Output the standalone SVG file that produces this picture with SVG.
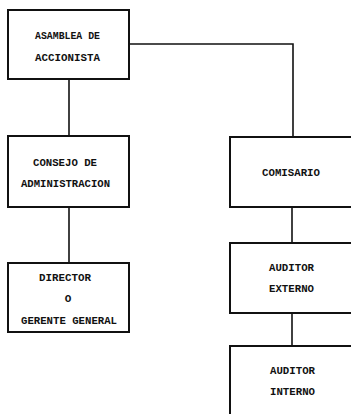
<svg xmlns="http://www.w3.org/2000/svg" width="351" height="414" viewBox="0 0 351 414">
<style>
.box{fill:none;stroke:#111;stroke-width:2}
.con{fill:none;stroke:#111;stroke-width:1.6}
.t{font-family:"Liberation Mono","DejaVu Sans Mono",monospace;font-weight:bold;font-size:11px;fill:#111}
</style>
<rect width="351" height="414" fill="#fff"/>
<g id="connectors">
<polyline class="con" points="129,44 293,44 293,137"/>
<line class="con" x1="69" y1="79" x2="69" y2="136"/>
<line class="con" x1="69" y1="207" x2="69" y2="263"/>
<line class="con" x1="292" y1="207" x2="292" y2="243"/>
<line class="con" x1="292" y1="313" x2="292" y2="346"/>
</g>
<g id="asamblea">
<rect class="box" x="8" y="10" width="121" height="69"/>
<text class="t" x="35" y="39" textLength="65" lengthAdjust="spacingAndGlyphs">ASAMBLEA DE</text>
<text class="t" x="35" y="61" textLength="65" lengthAdjust="spacingAndGlyphs">ACCIONISTA</text>
</g>
<g id="consejo">
<rect class="box" x="8" y="136" width="121" height="71"/>
<text class="t" x="33" y="166" textLength="64" lengthAdjust="spacingAndGlyphs">CONSEJO DE</text>
<text class="t" x="21" y="187" textLength="89" lengthAdjust="spacingAndGlyphs">ADMINISTRACION</text>
</g>
<g id="director">
<rect class="box" x="8" y="263" width="121" height="69"/>
<text class="t" x="39" y="281" textLength="52" lengthAdjust="spacingAndGlyphs">DIRECTOR</text>
<text class="t" x="68" y="302" text-anchor="middle">O</text>
<text class="t" x="21" y="324" textLength="96" lengthAdjust="spacingAndGlyphs">GERENTE GENERAL</text>
</g>
<g id="comisario">
<rect class="box" x="230" y="137" width="140" height="70"/>
<text class="t" x="262" y="176" textLength="58" lengthAdjust="spacingAndGlyphs">COMISARIO</text>
</g>
<g id="auditor-externo">
<rect class="box" x="230" y="243" width="140" height="70"/>
<text class="t" x="269" y="271" textLength="45" lengthAdjust="spacingAndGlyphs">AUDITOR</text>
<text class="t" x="269" y="292" textLength="45" lengthAdjust="spacingAndGlyphs">EXTERNO</text>
</g>
<g id="auditor-interno">
<rect class="box" x="230" y="346" width="140" height="100"/>
<text class="t" x="270" y="374" textLength="45" lengthAdjust="spacingAndGlyphs">AUDITOR</text>
<text class="t" x="270" y="395" textLength="45" lengthAdjust="spacingAndGlyphs">INTERNO</text>
</g>
</svg>
